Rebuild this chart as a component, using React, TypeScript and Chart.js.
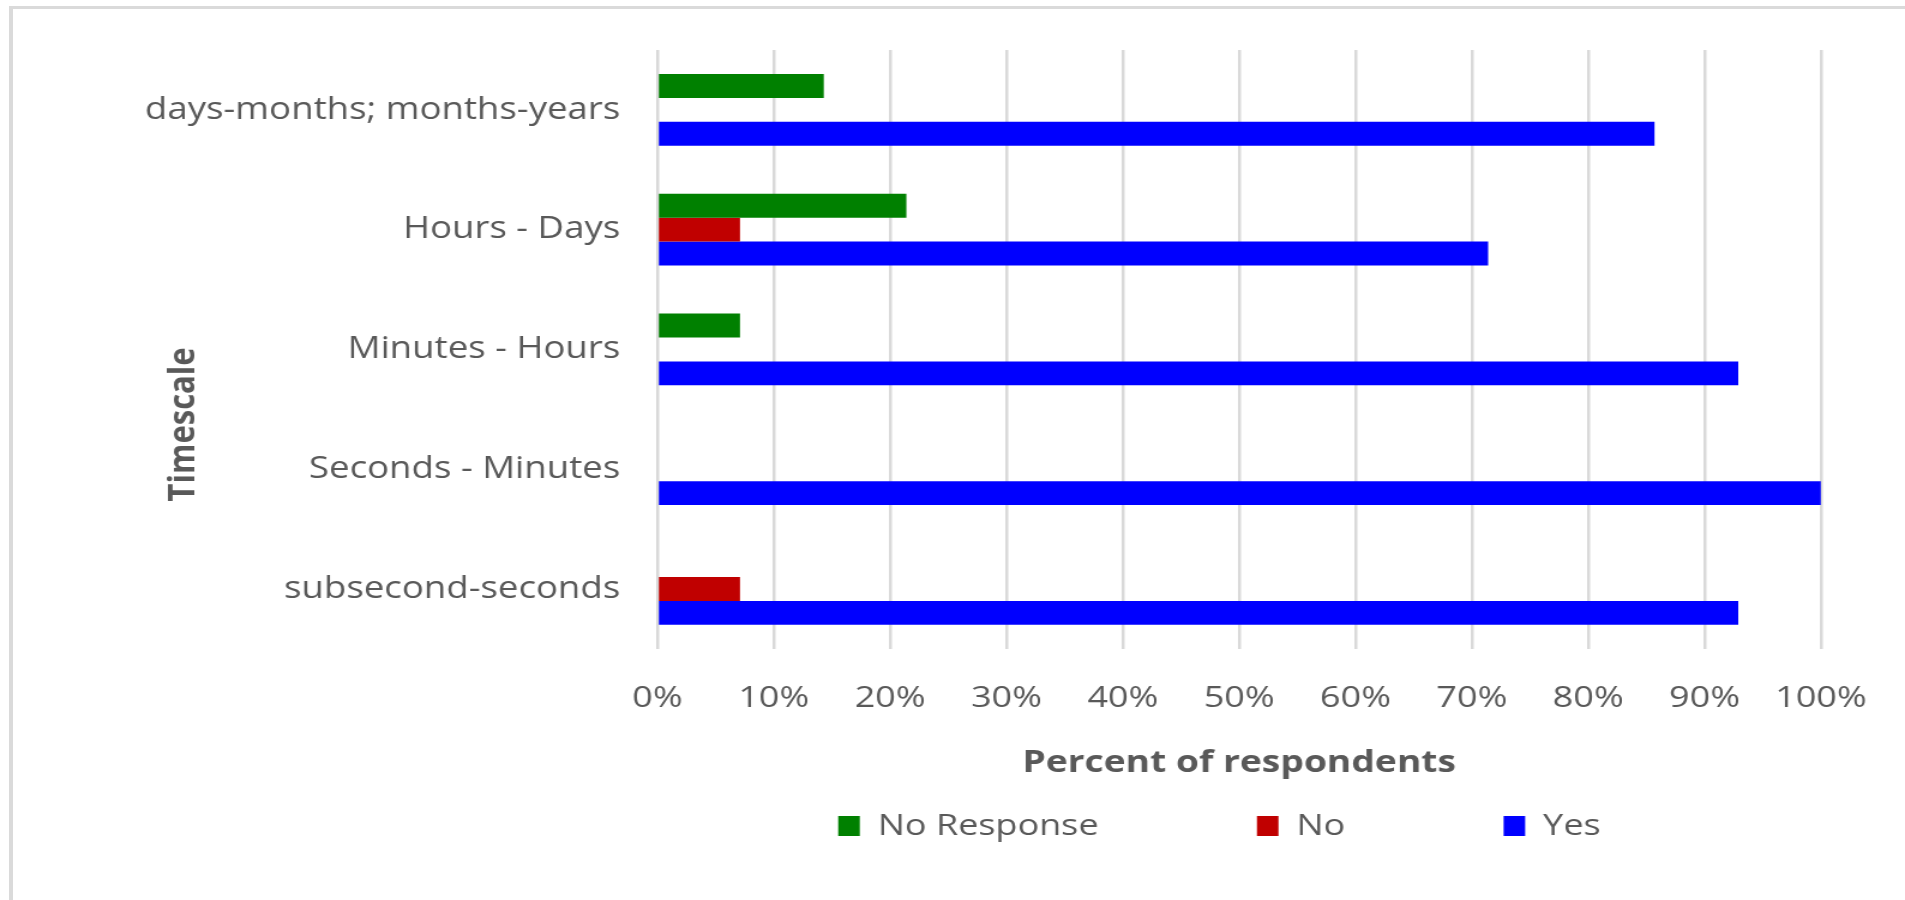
import { useEffect, useRef } from 'react';
import { Chart, registerables } from 'chart.js';

Chart.register(...registerables);

// Survey answers per timescale, as percent of respondents
const timescales = [
  'days-months; months-years',
  'Hours - Days',
  'Minutes - Hours',
  'Seconds - Minutes',
  'subsecond-seconds',
];
const noResponseShare = [14.3, 21.4, 7.1, 0, 0];
const noShare = [0, 7.1, 0, 0, 7.1];
const yesShare = [85.7, 71.4, 92.9, 100, 92.9];

const seriesNames = ['No Response', 'No', 'Yes'];
const seriesColors = ['#008000', '#C00000', '#0000FF'];

const xAxisTitle = 'Percent of respondents';
const yAxisTitle = 'Timescale';

// Canvas is drawn narrower and widened by CSS, giving the wide lettering
const CANVAS_W = 1588;
const CANVAS_H = 900;
const VIEW_W = 1905;

const FONT = '"Open Sans", "DejaVu Sans", sans-serif';
const TEXT = '#595959';
const GRID = '#d9d9d9';

// Places the legend row under the axis title, centred on the full frame
const legendPlacement = {
  id: 'legendPlacement',
  afterLayout(chart: any) {
    const lg = chart.legend;
    if (!lg) return;
    const pad = lg.options.labels.padding;
    const dy = 811 - (lg.top + pad);
    lg.top += dy;
    lg.bottom += dy;
    const dx = 1016.5 - (lg.left + lg.right) / 2;
    lg.left += dx;
    lg.right += dx;
  },
};

// Rotated title of the category axis
const categoryTitle = {
  id: 'categoryTitle',
  afterDraw(chart: any) {
    const { ctx, chartArea } = chart;
    ctx.save();
    ctx.translate(153, (chartArea.top + chartArea.bottom) / 2 + 75);
    ctx.rotate(-Math.PI / 2);
    ctx.font = `bold 31px ${FONT}`;
    ctx.fillStyle = TEXT;
    ctx.textAlign = 'center';
    ctx.textBaseline = 'middle';
    ctx.fillText(yAxisTitle, 0, 0);
    ctx.restore();
  },
};

export default function App() {
  const canvasRef = useRef<HTMLCanvasElement | null>(null);

  useEffect(() => {
    const canvas = canvasRef.current;
    if (!canvas) return;
    const values = [noResponseShare, noShare, yesShare];
    const chart = new Chart(canvas, {
      type: 'bar',
      data: {
        labels: timescales,
        datasets: seriesNames.map((name, i) => ({
          label: name,
          data: values[i],
          backgroundColor: seriesColors[i],
          borderWidth: 0,
          categoryPercentage: 0.6,
          barPercentage: 1.0,
        })),
      },
      options: {
        indexAxis: 'y',
        responsive: false,
        animation: false,
        devicePixelRatio: 1,
        layout: { padding: { top: 50, right: 65, bottom: -54, left: 0 } },
        scales: {
          x: {
            min: 0,
            max: 100,
            ticks: {
              stepSize: 10,
              autoSkip: false,
              maxRotation: 0,
              padding: 32,
              color: TEXT,
              font: { family: FONT, size: 30 },
              callback: (v: any) => `${v}%`,
            },
            grid: { color: GRID, lineWidth: 2.5, drawTicks: false },
            border: { display: false },
            title: {
              display: true,
              text: xAxisTitle,
              color: TEXT,
              font: { family: FONT, size: 31, weight: 'bold' },
              padding: { top: -4, bottom: 0 },
            },
          },
          y: {
            ticks: {
              padding: 23,
              color: TEXT,
              font: { family: FONT, size: 30.5 },
            },
            grid: { display: false },
            border: { display: false },
            afterFit: (scale: any) => {
              scale.width = 548;
            },
          },
        },
        plugins: {
          legend: {
            position: 'bottom',
            labels: {
              boxWidth: 18,
              boxHeight: 20,
              padding: 132,
              color: TEXT,
              font: { family: FONT, size: 30 },
            },
          },
          tooltip: { enabled: false },
        },
      } as any,
      plugins: [legendPlacement, categoryTitle],
    });
    return () => chart.destroy();
  }, []);

  return (
    <div
      style={{
        position: 'fixed',
        left: 0,
        top: 0,
        width: VIEW_W,
        height: CANVAS_H,
        background: '#ffffff',
        overflow: 'hidden',
      }}
    >
      <div
        style={{
          position: 'absolute',
          left: 9,
          top: 6,
          right: -10,
          bottom: -10,
          borderLeft: '4px solid #dadada',
          borderTop: '3px solid #dadada',
        }}
      />
      <canvas
        ref={canvasRef}
        width={CANVAS_W}
        height={CANVAS_H}
        style={{
          position: 'absolute',
          left: 0,
          top: 0,
          width: `${VIEW_W}px`,
          height: `${CANVAS_H}px`,
          display: 'block',
        }}
      />
    </div>
  );
}
